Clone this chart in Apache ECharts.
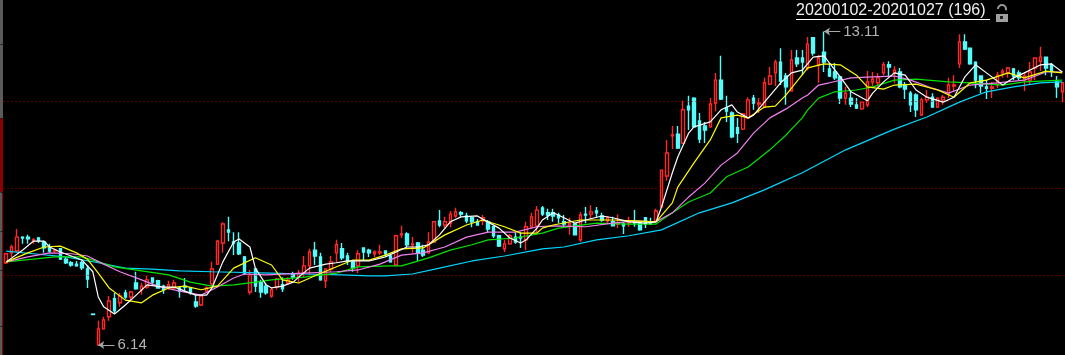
<!DOCTYPE html>
<html>
<head>
<meta charset="utf-8">
<style>
  html, body { margin: 0; padding: 0; background: #000; }
  #main { width: 1065px; height: 355px; }
</style>
<script src="https://cdn.jsdelivr.net/npm/echarts@6/dist/echarts.min.js"></script>
</head>
<body>
<div id="main"></div>
<script>
// [open, close, low, high]
var candles = [
[7.97,8.17,7.94,8.19],[8.19,8.32,8.10,8.37],[8.23,8.54,8.21,8.72],[8.54,8.52,8.39,8.56],[8.54,8.50,8.39,8.59],
[8.46,8.48,8.39,8.52],[8.52,8.46,8.41,8.54],[8.43,8.30,8.19,8.46],[8.30,8.23,8.19,8.39],[8.23,8.25,8.19,8.28],
[8.28,8.05,8.03,8.30],[8.05,7.97,7.94,8.10],[7.97,7.92,7.88,8.01],[7.94,7.90,7.88,8.01],[7.97,7.86,7.81,8.01],
[7.83,7.61,7.41,7.92],[6.83,6.82,6.82,6.83],[6.14,6.50,6.14,6.68],[6.50,6.70,6.48,6.77],[6.77,7.12,6.68,7.23],
[7.17,6.90,6.85,7.30],[7.08,7.23,6.99,7.30],[7.30,7.21,7.17,7.37],[7.21,7.32,7.14,7.34],[7.52,7.39,7.37,7.77],
[7.37,7.45,7.26,7.52],[7.43,7.59,7.39,7.68],[7.63,7.54,7.48,7.65],[7.57,7.41,7.39,7.59],[7.45,7.37,7.28,7.48],
[7.41,7.48,7.37,7.57],[7.41,7.52,7.37,7.59],[7.41,7.34,7.19,7.43],[7.45,7.43,7.32,7.63],[7.41,7.30,7.26,7.43],
[7.10,7.01,6.97,7.26],[7.03,7.23,7.01,7.26],[7.34,7.41,7.34,7.45],[7.50,7.83,7.43,7.99],[7.94,8.45,7.92,8.48],
[8.41,8.83,8.19,8.87],[8.70,8.65,8.45,8.99],[8.43,8.41,8.14,8.65],[8.41,8.17,8.14,8.65],[8.10,7.74,7.70,8.12],
[7.32,7.70,7.26,7.81],[7.83,7.45,7.32,7.85],[7.54,7.32,7.19,7.59],[7.45,7.30,7.26,7.52],[7.23,7.37,7.19,7.41],
[7.43,7.61,7.37,7.63],[7.48,7.39,7.32,7.65],[7.52,7.59,7.48,7.65],[7.72,7.65,7.59,7.77],[7.65,7.74,7.54,7.81],
[7.74,7.90,7.65,8.12],[7.90,8.21,7.70,8.28],[8.25,8.12,7.92,8.43],[8.10,7.59,7.57,8.19],[7.57,7.83,7.41,7.85],
[7.83,7.99,7.77,8.12],[8.19,8.37,7.97,8.48],[8.28,8.08,8.03,8.41],[8.12,8.01,7.92,8.19],[7.99,7.86,7.77,8.01],
[7.90,8.17,7.74,8.25],[8.30,8.21,8.03,8.30],[8.25,8.19,8.10,8.28],[8.17,8.21,8.10,8.25],[8.19,8.21,8.14,8.37],
[8.23,8.17,8.12,8.25],[8.12,7.99,7.97,8.14],[7.92,8.57,7.90,8.59],[8.59,8.61,8.52,8.79],[8.61,8.37,8.32,8.65],
[8.37,8.39,8.19,8.54],[8.41,8.19,8.01,8.43],[8.25,8.14,8.10,8.37],[8.19,8.43,8.17,8.65],[8.43,8.88,8.41,8.90],
[8.90,8.81,8.76,9.14],[8.81,8.88,8.74,8.99],[8.85,9.05,8.76,9.12],[9.01,9.10,8.97,9.19],[9.08,9.05,8.99,9.12],
[9.01,8.90,8.85,9.08],[8.97,8.88,8.76,8.99],[8.88,8.81,8.79,8.94],[8.90,8.97,8.81,9.03],[8.88,8.72,8.65,8.92],
[8.77,8.57,8.52,8.77],[8.57,8.34,8.32,8.59],[8.28,8.39,8.21,8.48],[8.39,8.57,8.37,8.61],[8.54,8.43,8.39,8.65],
[8.54,8.52,8.30,8.65],[8.48,8.77,8.25,8.88],[8.77,8.99,8.72,9.08],[8.79,9.14,8.65,9.23],[9.19,9.05,9.01,9.23],
[9.08,9.03,8.92,9.17],[9.08,9.01,8.88,9.17],[9.03,8.97,8.85,9.08],[8.88,8.83,8.77,9.03],[8.81,8.85,8.59,8.97],
[8.83,8.59,8.59,8.85],[8.48,9.03,8.43,9.10],[9.05,9.03,8.85,9.21],[9.05,9.10,8.94,9.25],[9.12,9.08,8.97,9.21],
[9.01,8.92,8.88,9.08],[8.90,8.97,8.85,9.01],[8.88,8.79,8.79,8.99],[8.83,8.85,8.74,9.05],[8.83,8.79,8.61,8.88],
[8.85,8.88,8.77,8.99],[8.88,8.85,8.77,9.14],[8.88,8.70,8.68,8.88],[8.97,8.83,8.74,8.97],[8.88,8.83,8.81,8.97],
[8.90,9.12,8.88,9.17],[9.21,10.03,9.19,10.03],[9.90,10.41,9.79,10.70],[10.79,10.81,10.50,11.01],[10.83,10.52,10.50,11.01],
[10.63,11.37,10.61,11.57],[11.45,11.37,10.92,11.68],[11.63,10.99,10.97,11.65],[11.12,10.72,10.63,11.30],[11.01,10.92,10.63,11.10],
[10.99,11.50,10.97,11.63],[11.52,12.03,11.34,12.19],[12.03,11.61,11.59,12.57],[11.41,11.34,11.10,11.68],[11.30,10.77,10.74,11.34],
[10.97,10.85,10.63,11.19],[10.94,11.28,10.92,11.30],[11.19,11.59,11.17,11.65],[11.63,11.52,11.37,11.70],[11.50,11.52,11.30,11.63],
[11.43,11.97,11.43,12.08],[11.94,12.12,11.92,12.32],[12.19,12.43,11.90,12.48],[12.43,12.01,11.92,12.74],[12.12,11.88,11.48,12.19],
[11.79,12.48,11.77,12.70],[12.52,12.39,12.32,12.70],[12.52,12.43,12.14,12.70],[12.30,12.83,12.25,12.99],[12.97,12.63,12.57,12.99],
[12.37,12.52,11.97,12.59],[12.65,12.43,12.21,13.11],[12.28,12.12,12.10,12.41],[12.21,12.08,12.03,12.41],[12.10,11.63,11.50,12.12],
[11.63,11.74,11.48,11.88],[11.63,11.50,11.43,11.81],[11.48,11.41,11.39,11.63],[11.39,11.54,11.37,11.54],[11.48,11.99,11.43,12.23],
[11.99,12.05,11.90,12.21],[11.97,12.08,11.88,12.19],[12.19,12.37,12.14,12.43],[12.37,12.32,12.10,12.45],[12.19,12.25,11.97,12.34],
[12.21,11.88,11.85,12.30],[11.92,11.83,11.61,11.99],[11.74,11.48,11.32,11.79],[11.70,11.37,11.21,11.74],[11.26,11.59,11.23,11.63],
[11.59,11.65,11.52,11.81],[11.65,11.43,11.41,11.74],[11.43,11.63,11.41,11.65],[11.59,11.65,11.48,11.70],[11.72,11.92,11.63,12.08],
[11.90,11.92,11.77,12.14],[12.39,12.88,12.30,13.05],[12.88,12.72,12.70,13.05],[12.74,12.39,12.37,12.74],[12.43,12.03,11.85,12.45],
[12.12,11.90,11.74,12.14],[11.88,11.85,11.61,12.03],[11.85,11.88,11.63,11.99],[11.92,12.14,11.85,12.21],[12.19,12.23,12.08,12.28],
[12.19,12.30,12.08,12.32],[12.28,12.12,12.03,12.30],[12.19,12.08,12.03,12.25],[12.03,12.12,11.79,12.21],[12.03,12.21,11.92,12.43],
[12.30,12.52,12.03,12.54],[12.45,12.54,12.23,12.77],[12.54,12.30,12.14,12.54],[12.37,12.23,12.10,12.41],[11.99,11.88,11.63,12.12],
[11.77,11.97,11.54,11.97]
];

// moving averages as [candle index, price]
var maWhite = [[0,7.99],[3,8.25],[5,8.45],[7,8.45],[8,8.32],[10,8.21],[12,8.12],[14,8.03],[16,7.77],[17,7.21],[18,6.99],[20,6.83],[22,7.03],[24,7.25],[26,7.48],[29,7.43],[31,7.43],[33,7.34],[35,7.25],[37,7.25],[38,7.41],[40,7.99],[42,8.43],[43,8.50],[45,8.32],[46,7.85],[48,7.48],[49,7.41],[51,7.45],[53,7.54],[54,7.65],[56,7.85],[59,7.94],[61,7.97],[63,8.01],[65,8.01],[67,8.01],[70,8.10],[72,8.21],[74,8.32],[76,8.32],[78,8.37],[80,8.59],[82,8.88],[84,8.99],[87,9.01],[88,8.94],[91,8.74],[93,8.52],[95,8.41],[96,8.48],[98,8.74],[99,8.92],[101,9.08],[103,8.97],[105,8.85],[107,8.92],[110,9.01],[112,8.97],[115,8.88],[118,8.85],[120,8.88],[121,9.21],[123,9.97],[124,10.32],[126,10.85],[127,10.99],[130,11.10],[132,11.37],[134,11.48],[135,11.32],[137,11.19],[138,11.25],[140,11.54],[143,11.97],[145,12.19],[147,12.25],[149,12.54],[151,12.57],[152,12.41],[154,12.10],[156,11.77],[159,11.57],[160,11.74],[162,11.99],[164,12.19],[166,12.14],[168,11.81],[170,11.65],[173,11.54],[175,11.65],[177,12.10],[179,12.37],[181,12.19],[184,11.92],[186,12.08],[188,12.19],[191,12.37],[193,12.39],[195,12.21]];
var maYellow = [[0,7.99],[4,8.19],[7,8.32],[10,8.34],[13,8.19],[15,8.05],[17,7.74],[19,7.41],[22,7.14],[25,7.08],[27,7.25],[30,7.41],[33,7.45],[36,7.37],[39,7.45],[42,7.85],[46,8.08],[49,7.92],[51,7.59],[54,7.52],[57,7.68],[61,7.88],[64,8.03],[67,8.03],[70,8.14],[73,8.28],[77,8.30],[81,8.59],[85,8.81],[88,8.92],[92,8.77],[95,8.63],[98,8.63],[99,8.74],[101,8.81],[106,8.92],[112,8.92],[116,8.90],[120,8.88],[123,9.30],[124,9.65],[127,10.19],[130,10.70],[132,11.19],[135,11.25],[137,11.19],[140,11.43],[142,11.45],[144,11.70],[145,11.85],[148,12.30],[151,12.39],[154,12.37],[157,12.14],[159,11.88],[162,11.83],[164,11.92],[168,11.94],[172,11.81],[175,11.65],[178,11.97],[181,12.03],[185,12.19],[188,12.08],[192,12.23],[195,12.19]];
var maPink = [[0,7.99],[4,8.10],[8,8.19],[12,8.17],[15,8.12],[18,7.94],[21,7.77],[25,7.59],[28,7.45],[32,7.34],[36,7.25],[39,7.43],[42,7.63],[44,7.72],[48,7.70],[55,7.74],[61,7.77],[65,7.81],[69,7.94],[73,8.14],[77,8.19],[81,8.32],[85,8.54],[89,8.65],[94,8.65],[98,8.77],[101,8.79],[107,8.77],[112,8.85],[116,8.90],[120,8.88],[123,9.08],[126,9.43],[129,9.74],[132,10.14],[135,10.41],[138,10.85],[141,11.19],[144,11.39],[147,11.63],[148,11.70],[150,11.92],[152,11.97],[156,12.08],[160,12.10],[164,12.12],[167,12.03],[171,11.85],[174,11.74],[178,11.92],[183,11.97],[188,12.03],[192,12.21],[195,12.21]];
var maGreen = [[0,7.99],[5,8.05],[9,8.10],[14,8.10],[17,7.99],[20,7.88],[25,7.79],[30,7.70],[34,7.54],[38,7.45],[42,7.48],[46,7.54],[49,7.59],[55,7.65],[61,7.74],[65,7.88],[71,7.90],[73,7.90],[78,8.08],[82,8.25],[86,8.37],[89,8.48],[94,8.52],[99,8.63],[102,8.74],[109,8.85],[115,8.83],[120,8.83],[123,9.08],[126,9.32],[130,9.52],[133,9.88],[137,10.10],[141,10.48],[144,10.81],[145,10.94],[147,11.19],[148,11.37],[150,11.63],[153,11.77],[157,11.81],[160,11.88],[164,12.03],[168,12.05],[174,11.99],[178,11.97],[184,11.92],[188,11.99],[195,12.03]];
var maCyan = [[0,8.23],[5,8.17],[11,8.10],[17,7.97],[22,7.85],[27,7.83],[32,7.79],[38,7.77],[49,7.74],[55,7.72],[62,7.70],[67,7.68],[70,7.68],[75,7.72],[80,7.85],[86,8.01],[92,8.12],[99,8.28],[103,8.32],[109,8.48],[115,8.57],[121,8.70],[128,9.08],[134,9.30],[140,9.59],[147,9.97],[155,10.48],[164,10.94],[170,11.21],[176,11.54],[181,11.77],[186,11.88],[191,11.97],[195,11.99]];

var gridLevels = [7.70, 9.63, 11.56];
var tickLevels = [12.83, 11.19, 9.54, 8.68, 7.81, 6.57];
var highPoint = { index: 151, price: 13.11 };
var lowPoint = { index: 17, price: 6.14 };
var rangeTitle = "20200102-20201027 (196)";

var categories = candles.map(function (c, i) { return i; });

function maSeries(name, data, color) {
  return {
    name: name,
    type: "line",
    data: data,
    symbol: "none",
    lineStyle: { color: color, width: 1.2 },
    z: 5
  };
}

function arrowTo(point, span) {
  return [
    { coord: [point.index, point.price], lineStyle: { color: "#a8a8a8", type: "solid", width: 1 } },
    { coord: [point.index + span, point.price] }
  ];
}

function extremeLabel(point, span) {
  return {
    coord: [point.index + span, point.price],
    symbol: "circle",
    symbolSize: 0,
    label: {
      show: true,
      position: "right",
      distance: 3,
      formatter: point.price.toFixed(2),
      color: "#b4b4b4",
      fontFamily: "Liberation Sans",
      fontSize: 15
    }
  };
}

var myChart = echarts.init(document.getElementById("main"), null, { renderer: "canvas" });

var option = {
  animation: false,
  backgroundColor: "#000",
  grid: { left: 3.5, right: 0, top: 0, bottom: 0 },
  xAxis: {
    type: "category",
    data: categories,
    axisLine: { show: false },
    axisTick: { show: false },
    axisLabel: { show: false },
    splitLine: { show: false }
  },
  yAxis: {
    type: "value",
    min: 5.92,
    max: 13.81,
    axisLine: { show: false },
    axisTick: { show: true, length: 3, inside: false, customValues: tickLevels, lineStyle: { color: "#1a1a1a" } },
    axisLabel: { show: false },
    splitLine: { show: false }
  },
  series: [
    {
      name: "K",
      type: "candlestick",
      data: candles,
      barWidth: 3,
      itemStyle: {
        color: "#000",
        color0: "#54fcfc",
        borderColor: "#ff2828",
        borderColor0: "#54fcfc",
        borderWidth: 1.4
      },
      markLine: {
        silent: true,
        symbol: "none",
        animation: false,
        label: { show: false },
        lineStyle: { color: "#a00000", type: [1, 3], width: 1 },
        data: gridLevels.map(function (v) { return { yAxis: v }; })
      },
      markPoint: {
        silent: true,
        animation: false,
        data: [extremeLabel(highPoint, 3), extremeLabel(lowPoint, 3)]
      }
    },
    maSeries("MA60", maCyan, "#00d8ff"),
    maSeries("MA30", maGreen, "#00e400"),
    maSeries("MA20", maPink, "#f080f0"),
    maSeries("MA10", maYellow, "#ffff00"),
    maSeries("MA5", maWhite, "#ffffff"),
    {
      name: "arrows",
      type: "line",
      data: [],
      markLine: {
        silent: true,
        animation: false,
        symbol: ["arrow", "none"],
        symbolSize: 6,
        label: { show: false },
        data: [arrowTo(highPoint, 3), arrowTo(lowPoint, 3)]
      }
    }
  ],
  graphic: [
    { type: "rect", shape: { x: 0, y: 0, width: 3, height: 355 }, style: { fill: "#5a5a5a" }, z: -1 },
    { type: "rect", shape: { x: 2, y: 118, width: 1, height: 237 }, style: { fill: "#8a0000" }, z: -1 },
    { type: "rect", shape: { x: 0, y: 118, width: 3, height: 74 }, style: { fill: "#8a0000" }, z: -1 },
    {
      type: "text",
      left: 796,
      top: 3,
      style: { text: rangeTitle, fill: "#f0f0f0", font: "16px 'Liberation Sans'" }
    },
    { type: "rect", shape: { x: 796, y: 19, width: 194, height: 1 }, style: { fill: "#ffffff" } },
    { type: "arc", shape: { cx: 1002, cy: 9, r: 4, startAngle: Math.PI, endAngle: Math.PI * 2.1 }, style: { stroke: "#999", fill: "none", lineWidth: 2 } },
    { type: "rect", shape: { x: 996, y: 14, width: 12, height: 8 }, style: { fill: "#a0a0a0" } },
    { type: "rect", shape: { x: 1000, y: 16, width: 3, height: 3 }, style: { fill: "#202020" } }
  ]
};

myChart.setOption(option);
window.addEventListener("resize", function () { myChart.resize(); });
</script>
</body>
</html>
